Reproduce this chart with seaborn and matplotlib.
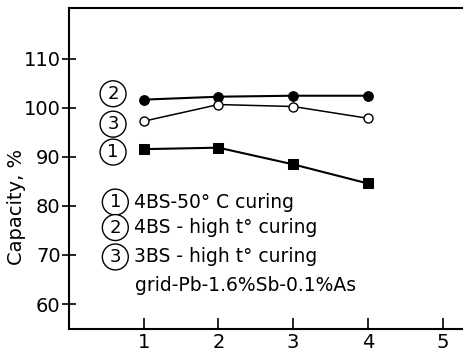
import matplotlib
matplotlib.use("Agg")
import matplotlib.pyplot as plt
import seaborn as sns
import pandas as pd

x_vals = [1, 2, 3, 4]
s1_4bs_50c = [91.6, 91.9, 88.5, 84.6]
s2_4bs_high = [101.7, 102.3, 102.5, 102.5]
s3_3bs_high = [97.3, 100.7, 100.3, 97.9]
y_ticks = [60, 70, 80, 90, 100, 110]
x_ticks = [1, 2, 3, 4, 5]
legend_lines = ["4BS-50° C curing", "4BS - high t° curing", "3BS - high t° curing"]
note = "grid-Pb-1.6%Sb-0.1%As"

sns.set_style("ticks")
plt.rcParams['font.family'] = ['DejaVu Sans']
plt.rcParams['text.color'] = 'black'
plt.rcParams['xtick.color'] = 'black'
plt.rcParams['ytick.color'] = 'black'
plt.rcParams['axes.labelcolor'] = 'black'
plt.rcParams['axes.edgecolor'] = 'black'

fig = plt.figure(figsize=(4.63, 3.53), dpi=100)
ax = fig.add_axes([69/463, 1 - 329/353, (463 - 69)/463, (329 - 8)/353])

df1 = pd.DataFrame({"x": x_vals, "y": s1_4bs_50c})
df2 = pd.DataFrame({"x": x_vals, "y": s2_4bs_high})
df3 = pd.DataFrame({"x": x_vals, "y": s3_3bs_high})

sns.lineplot(data=df1, x="x", y="y", ax=ax, color="black", lw=1.5, marker="s",
             markersize=6.5, markerfacecolor="black", markeredgecolor="black")
sns.lineplot(data=df2, x="x", y="y", ax=ax, color="black", lw=1.5, marker="o",
             markersize=7, markerfacecolor="black", markeredgecolor="black")
sns.lineplot(data=df3, x="x", y="y", ax=ax, color="black", lw=1.1, marker="o",
             markersize=6.5, markerfacecolor="white", markeredgecolor="black", markeredgewidth=1.0)

ax.set_xlim(0, 394/74.7)
ax.set_ylim(54.9, 120.4)
ax.set_xticks(x_ticks)
ax.set_yticks(y_ticks)
ax.tick_params(axis="y", direction="inout", length=10, width=1.2, labelsize=14, pad=1)
ax.tick_params(axis="x", direction="in", length=8, width=1.2, labelsize=14, pad=3)
ax.set_xlabel("")
ax.set_ylabel("Capacity, %", fontsize=14)
ax.yaxis.set_label_coords(-43/394, 0.38)
for sp in ["left", "bottom", "top"]:
    ax.spines[sp].set_linewidth(1.5)
ax.spines["right"].set_visible(False)
ax.spines["top"].set_visible(True)

circ = dict(boxstyle="circle,pad=0.22", fc="white", ec="black", lw=1.0)
ax.text(0.59, 102.9, "2", fontsize=13, ha="center", va="center", bbox=circ)
ax.text(0.59, 96.7, "3", fontsize=13, ha="center", va="center", bbox=circ)
ax.text(0.59, 91.0, "1", fontsize=13, ha="center", va="center", bbox=circ)

leg_y = [80.8, 75.6, 69.6]
for i, (txt, yy) in enumerate(zip(legend_lines, leg_y)):
    ax.text(0.62, yy, str(i + 1), fontsize=13, ha="center", va="center", bbox=circ)
    ax.text(0.87, yy, txt, fontsize=13.5, ha="left", va="center")
ax.text(0.88, 63.8, note, fontsize=13.5, ha="left", va="center")

fig.savefig("out.png", dpi=100)
